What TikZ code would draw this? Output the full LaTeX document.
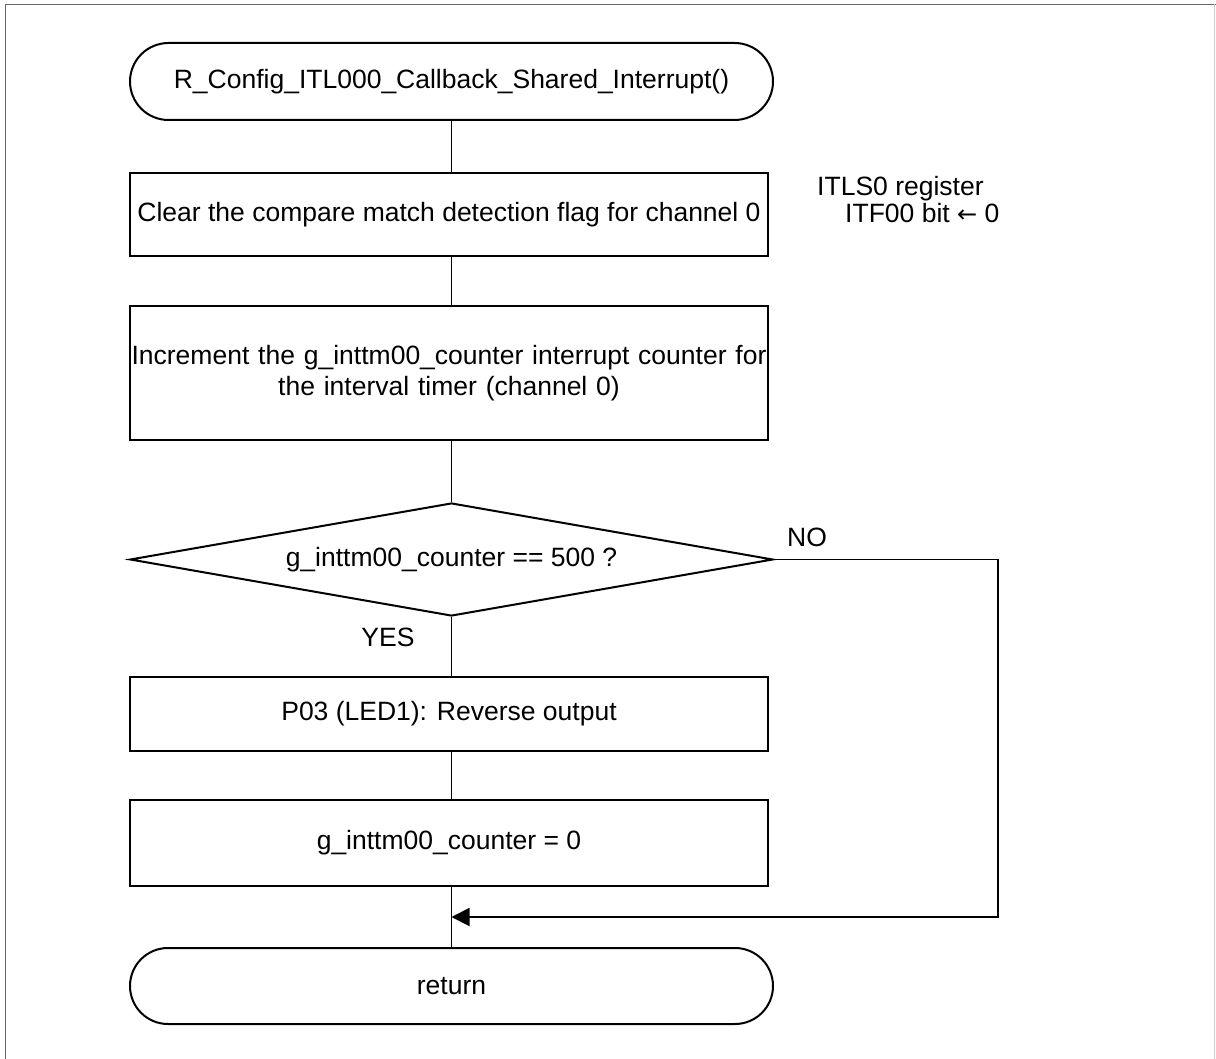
\documentclass[tikz,border=0pt]{standalone}
\usepackage{fontspec}
\setmainfont{Liberation Sans}
\newfontfamily\arrowfont{DejaVu Sans}
\usetikzlibrary{shapes.misc,shapes.geometric,arrows.meta}
\begin{document}
\begin{tikzpicture}[x=1pt,y=-1pt,
  every node/.style={font=\fontsize{26.5}{31}\selectfont, inner sep=0pt},
  term/.style={draw, rounded rectangle, line width=2pt, minimum width=643pt, minimum height=77pt},
  proc/.style={draw, rectangle, line width=2pt, minimum width=638pt, align=center},
  dec/.style={draw, diamond, shape aspect=5.69, line width=2pt, minimum width=643pt, minimum height=113pt},
  conn/.style={line width=1.9pt}
]
\useasboundingbox (0,0) rectangle (1216,1059);
% frame
\draw[gray!80!black, line width=1.5pt] (5.5,1059) -- (5.5,4.5) -- (1216,4.5);
\draw[gray!40, line width=1pt] (1214.5,4.5) -- (1214.5,1059);

\node[term] (start) at (451.5,81.5) {R\_Config\_ITL000\_Callback\_Shared\_Interrupt()};
\node[proc, minimum height=83pt] (box1) at (449,214.5) {Clear the compare match detection flag for channel 0};
\node[proc, minimum height=134pt, text width=636pt] (box2) at (449,373) {Increment the g\_inttm00\_counter interrupt counter for\\the interval timer (channel 0)};
\node[dec] (cond) at (451.5,559.5) {g\_inttm00\_counter == 500 ?};
\node[proc, minimum height=74pt] (box3) at (449,714) {P03 (LED1): Reverse output};
\node[proc, minimum height=86pt] (box4) at (449,843) {g\_inttm00\_counter = 0};
\node[term, minimum height=76pt] (ret) at (451.5,986) {return};

\node[anchor=west] (reg) at (817,188.5) {ITLS0 register};
\node[anchor=west] (bit) at (845,213.5) {ITF00 bit {\arrowfont\fontsize{24}{28}\selectfont ←} 0};
\node (no) at (807,537) {NO};
\node (yes) at (388,637) {YES};

\coordinate (c1) at (998,559.5);
\coordinate (c2) at (998,917);

\draw[conn] (start.south) -- (start.south |- box1.north);
\draw[conn] (start.south |- box1.south) -- (start.south |- box2.north);
\draw[conn] (start.south |- box2.south) -- (cond.north);
\draw[conn] (cond.south) -- (cond.south |- box3.north);
\draw[conn] (start.south |- box3.south) -- (start.south |- box4.north);
\draw[conn] (start.south |- box4.south) -- (ret.north);
\draw[conn, -{Triangle[length=18pt,width=18pt]}] (cond.east) -- (c1) -- (c2) -- (start.south |- c2);
\end{tikzpicture}
\end{document}
